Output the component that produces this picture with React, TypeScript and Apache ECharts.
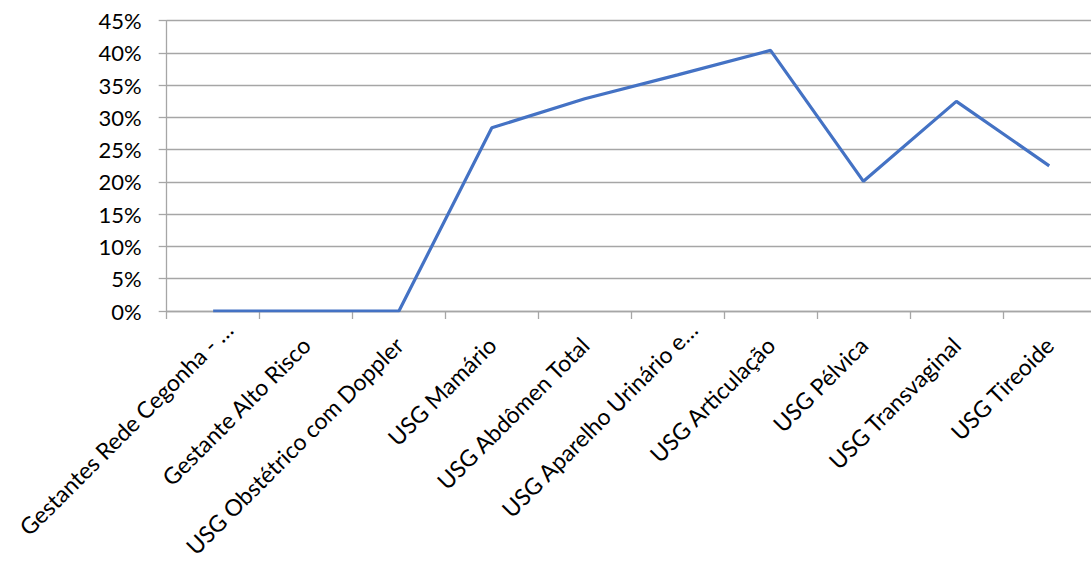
import React, { useEffect, useRef } from "react";
import * as echarts from "echarts";

const categories = [
  "Gestantes Rede Cegonha - …",
  "Gestante Alto Risco",
  "USG Obstétrico com Doppler",
  "USG Mamário",
  "USG Abdômen Total",
  "USG Aparelho Urinário e…",
  "USG Articulação",
  "USG Pélvica",
  "USG Transvaginal",
  "USG Tireoide",
];
const truncated = ["Gestantes Rede Cegonha - …", "USG Aparelho Urinário e…"];
const values = [0, 0, 0, 28.4, 32.9, 36.6, 40.4, 20.1, 32.5, 22.5];
const yTicks = [0, 5, 10, 15, 20, 25, 30, 35, 40, 45];

export default function App() {
  const ref = useRef<HTMLDivElement>(null);
  useEffect(() => {
    if (!ref.current) return;
    const chart = echarts.init(ref.current, undefined, { renderer: "svg" });
    const font = "Lato, 'Open Sans', sans-serif";
    chart.setOption({
      animation: false,
      grid: {
        left: 166.7,
        right: 4.3,
        top: 20.7,
        bottom: 257,
        containLabel: false,
        outerBoundsMode: "none",
      },
      xAxis: {
        type: "category",
        data: categories.map((c) =>
          truncated.includes(c) ? { value: c, textStyle: { padding: [0, -22, 0, 0] } } : c
        ),
        boundaryGap: true,
        axisLine: { lineStyle: { color: "#A6A6A6", width: 1.3 } },
        axisTick: { show: true, length: 8, lineStyle: { color: "#A6A6A6", width: 1.3 } },
        axisLabel: {
          rotate: 45,
          interval: 0,
          margin: 30,
          color: "#000",
          fontFamily: font,
          fontSize: 23,
        },
      },
      yAxis: {
        type: "value",
        min: yTicks[0],
        max: yTicks[yTicks.length - 1],
        interval: 5,
        axisLine: { show: true, lineStyle: { color: "#A6A6A6", width: 1.3 } },
        axisTick: { show: true, length: 8, lineStyle: { color: "#A6A6A6", width: 1.3 } },
        splitLine: { lineStyle: { color: "#A6A6A6", width: 1.3 } },
        axisLabel: {
          margin: 25,
          color: "#000",
          fontFamily: font,
          fontSize: 22,
          formatter: (v: number) => `${v}%`,
        },
      },
      series: [
        {
          type: "line",
          data: values,
          symbol: "none",
          lineStyle: { color: "#4472C4", width: 3.2 },
        },
      ],
    });
    return () => chart.dispose();
  }, []);
  return (
    <div
      ref={ref}
      style={{ position: "fixed", left: 0, top: 0, width: 1100, height: 568, background: "#fff" }}
    />
  );
}
